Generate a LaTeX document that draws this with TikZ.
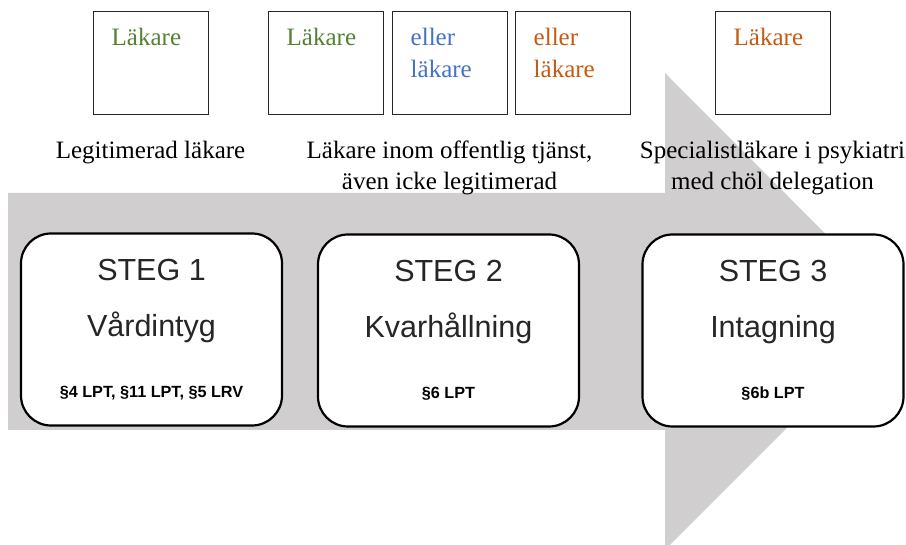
\documentclass[tikz,border=0pt]{standalone}
\usepackage{fontspec}
\setmainfont{Liberation Serif}
\setsansfont{Liberation Sans}
\usetikzlibrary{positioning}
\definecolor{pilgra}{HTML}{D0CECE}
\definecolor{gron}{HTML}{548235}
\definecolor{bla}{HTML}{4472C4}
\definecolor{orangeton}{HTML}{C55A11}
\tikzstyle{ruta}=[draw=black!85, line width=1pt, minimum width=115pt, minimum height=103pt, inner sep=0pt]
\tikzstyle{rutetext}=[inner sep=0pt, align=left, font=\fontsize{25}{32}\selectfont]
\tikzstyle{etikett}=[inner sep=0pt, align=center, font=\fontsize{25}{31}\selectfont]
\tikzstyle{steg}=[draw, fill=white, rounded corners=30pt, line width=2.2pt, minimum width=261pt, minimum height=192pt]
\tikzstyle{rubrik}=[inner sep=0pt, anchor=base, text=black!85, font=\sffamily\fontsize{30.5}{36}\selectfont]
\tikzstyle{lag}=[inner sep=0pt, anchor=base, font=\sffamily\bfseries\fontsize{16.2}{19}\selectfont]

\begin{document}
\begin{tikzpicture}[x=1pt, y=-1pt]
  \fill[white] (0,0) rectangle (906,545);
  \useasboundingbox (0,0) rectangle (906,545);
  \fill[pilgra] (8,193) -- (665,193) -- (665,73) -- (903,311.5) -- (665,550) -- (665,430) -- (8,430) -- cycle;

  \node[ruta] (b1) at (150.5,63.5) {};
  \node[ruta] (b2) at (325.5,63.5) {};
  \node[ruta] (b3) at (449.5,63.5) {};
  \node[ruta] (b4) at (572.5,63.5) {};
  \node[ruta] (b5) at (772.5,63.5) {};
  \node[rutetext, text=gron] (t1) [below right=16pt and 19pt of b1.north west] {Läkare};
  \node[rutetext, text=gron] (t2) [below right=16pt and 19pt of b2.north west] {Läkare};
  \node[rutetext, text=bla] (t3) [below right=16pt and 19pt of b3.north west] {eller\\läkare};
  \node[rutetext, text=orangeton] (t4) [below right=16pt and 19pt of b4.north west] {eller\\läkare};
  \node[rutetext, text=orangeton] (t5) [below right=16pt and 19pt of b5.north west] {Läkare};

  \node[etikett] (e1) [below=25pt of b1.south] {Legitimerad läkare};
  \node[etikett] (e2) [below=25pt of b3.south] {Läkare inom offentlig tjänst,\\även icke legitimerad};
  \node[etikett] (e3) [below=25pt of b5.south] {Specialistläkare i psykiatri\\med chöl delegation};

  \node[steg] (s1) at (151.5,329.5) {};
  \node[steg] (s2) at (448.5,330.5) {};
  \node[steg] (s3) at (773,330.5) {};
  \node[rubrik] (s1rubrik) at ([yshift=-48pt]s1.north) {STEG 1};
  \node[rubrik] (s1namn) at ([yshift=-56pt]s1rubrik.base) {Vårdintyg};
  \node[lag] (s1lag) at ([yshift=-61pt]s1namn.base) {§4 LPT, §11 LPT, §5 LRV};
  \node[rubrik] (s2rubrik) at ([yshift=-48pt]s2.north) {STEG 2};
  \node[rubrik] (s2namn) at ([yshift=-56pt]s2rubrik.base) {Kvarhållning};
  \node[lag] (s2lag) at ([yshift=-61pt]s2namn.base) {§6 LPT};
  \node[rubrik] (s3rubrik) at ([yshift=-48pt]s3.north) {STEG 3};
  \node[rubrik] (s3namn) at ([yshift=-56pt]s3rubrik.base) {Intagning};
  \node[lag] (s3lag) at ([yshift=-61pt]s3namn.base) {§6b LPT};
\end{tikzpicture}
\end{document}
